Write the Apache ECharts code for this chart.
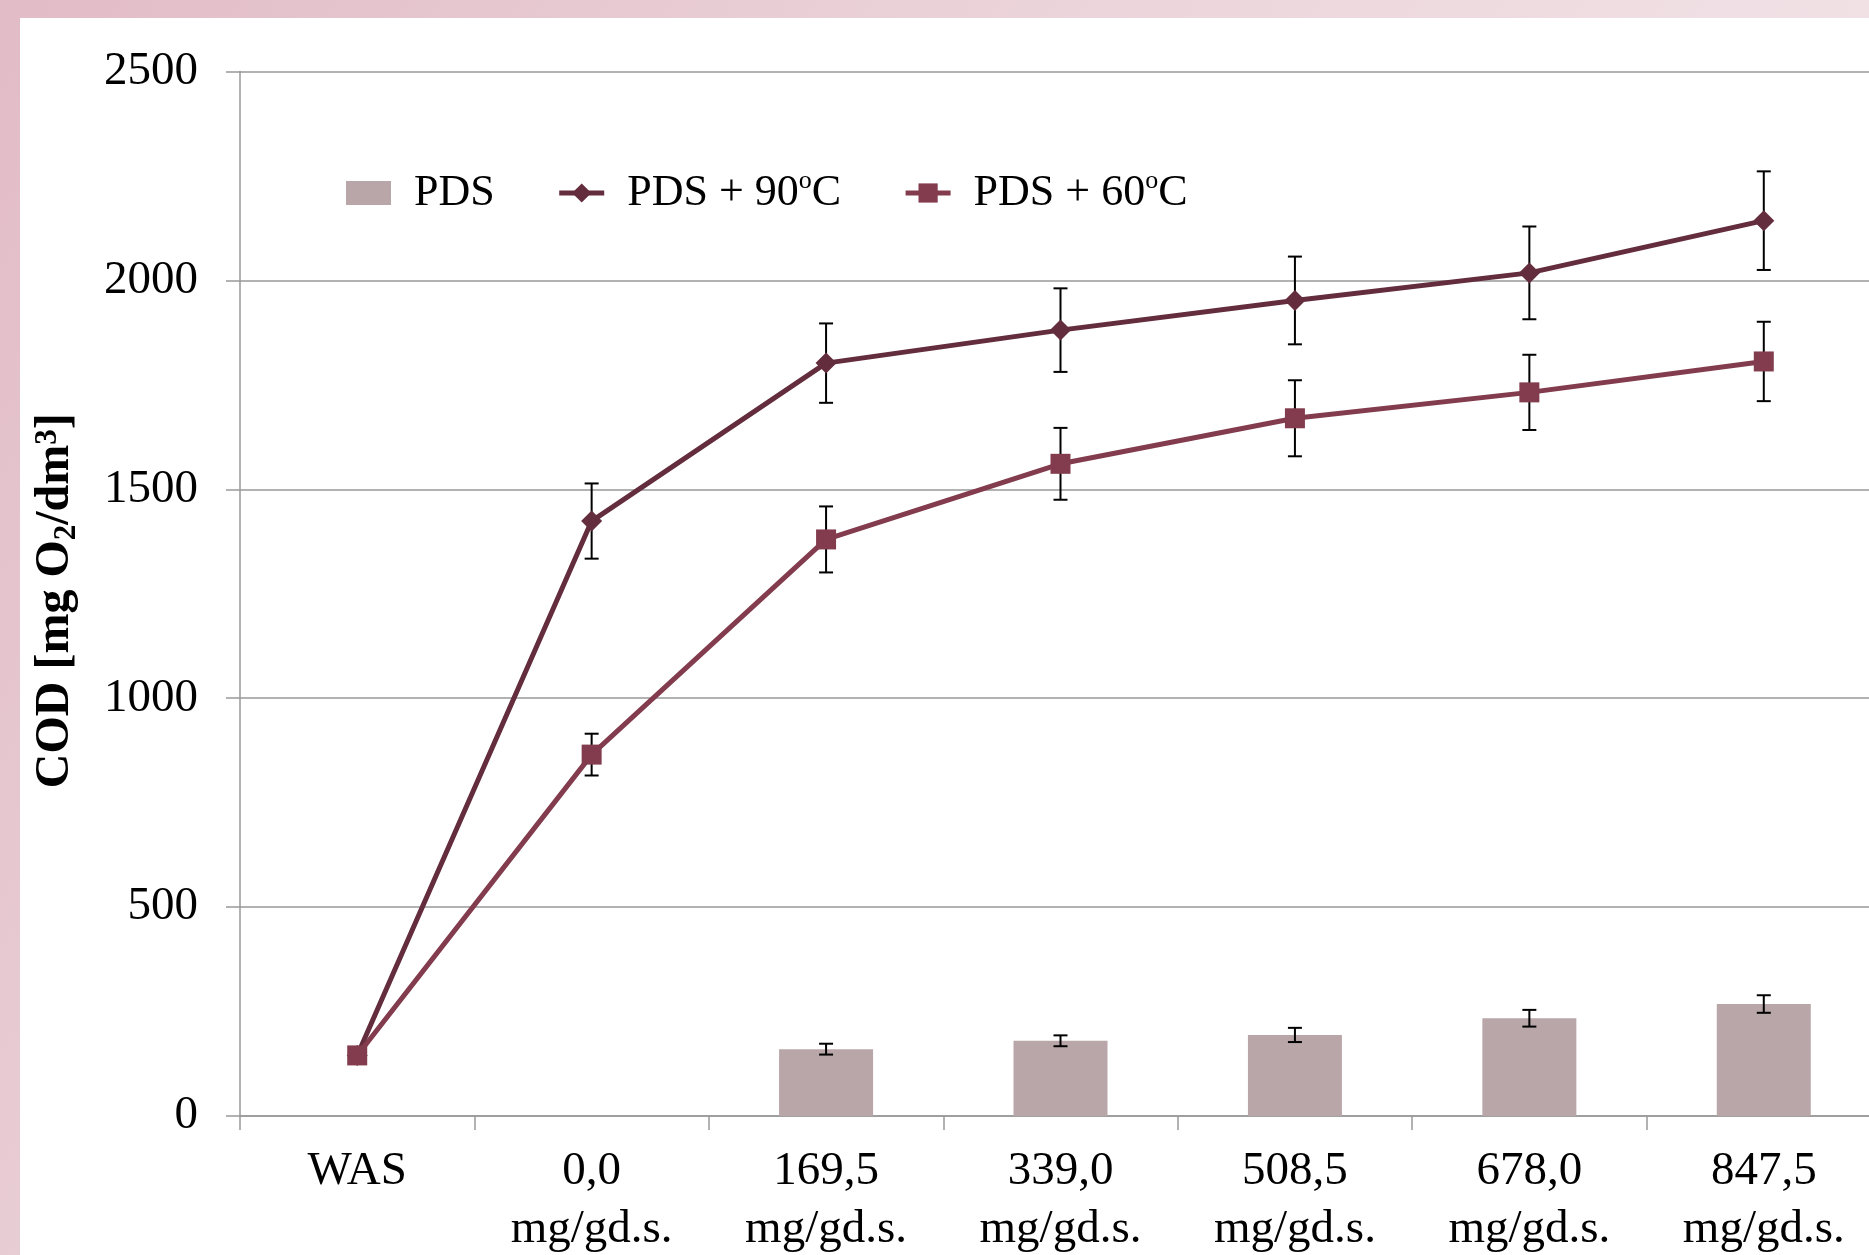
<!DOCTYPE html>
<html>
<head>
<meta charset="utf-8">
<script src="https://cdn.jsdelivr.net/npm/echarts@6.0.0/dist/echarts.min.js"></script>
<style>
  html, body { margin: 0; padding: 0; }
  body {
    width: 1869px; height: 1255px; overflow: hidden; position: relative;
    background: linear-gradient(120deg, #e2bcc6 0%, #ecd6dc 45%, #f5ecef 100%);
  }
  #paper { position: absolute; left: 20px; top: 18px; right: 0; bottom: 0; background: #fff; }
  #chart { position: absolute; left: 0; top: 0; width: 1869px; height: 1255px; }
</style>
</head>
<body>
<div id="paper"></div>
<div id="chart"></div>
<script>
const categories = ['WAS', '0,0\nmg/gd.s.', '169,5\nmg/gd.s.', '339,0\nmg/gd.s.', '508,5\nmg/gd.s.', '678,0\nmg/gd.s.', '847,5\nmg/gd.s.'];
const yTicks = [0, 500, 1000, 1500, 2000, 2500];

const pds = ['-', '-', 160, 180, 194, 234, 268];
const pdsErr = [null, null, 13, 13, 17, 20, 21];
const pds90 = [145, 1424, 1802, 1881, 1952, 2018, 2143];
const pds90Err = [null, 90, 95, 100, 105, 111, 118];
const pds60 = [145, 865, 1380, 1561, 1670, 1732, 1806];
const pds60Err = [null, 50, 79, 86, 91, 90, 95];

const FONT = '"Liberation Serif", "Times New Roman", serif';

// turn value +/- err into [index, low, high] rows
function errRows(vals, errs) {
  const rows = [];
  vals.forEach((v, i) => {
    if (errs[i] != null && typeof v === 'number') rows.push([i, v - errs[i], v + errs[i]]);
  });
  return rows;
}

function errorBars(rows, z) {
  return {
    type: 'custom',
    z: z,
    silent: true,
    renderItem: (params, api) => {
      const i = api.value(0);
      const lo = api.coord([i, api.value(1)]);
      const hi = api.coord([i, api.value(2)]);
      const w = 7;
      const style = { stroke: '#000', lineWidth: 2 };
      return {
        type: 'group',
        children: [
          { type: 'line', shape: { x1: lo[0], y1: lo[1], x2: hi[0], y2: hi[1] }, style: style },
          { type: 'line', shape: { x1: lo[0] - w, y1: lo[1], x2: lo[0] + w, y2: lo[1] }, style: style },
          { type: 'line', shape: { x1: hi[0] - w, y1: hi[1], x2: hi[0] + w, y2: hi[1] }, style: style }
        ]
      };
    },
    encode: { x: 0, y: [1, 2] },
    data: rows
  };
}

const chart = echarts.init(document.getElementById('chart'), null, { renderer: 'canvas' });

const option = {
  animation: false,
  backgroundColor: 'transparent',
  // plot runs past the right edge, like the cropped original
  grid: { left: 240, top: 71.5, width: 1641, height: 1044.5, containLabel: false, outerBoundsMode: 'none' },
  legend: {
    left: 341,
    top: 163,
    itemWidth: 45,
    itemHeight: 24,
    itemGap: 62,
    lineStyle: { width: 5 },
    data: [{ name: 'PDS', icon: 'rect' }, 'PDS + 90°C', 'PDS + 60°C'],
    formatter: name => name.replace('°', '{sup|o}'),
    textStyle: {
      fontFamily: FONT,
      fontSize: 44,
      lineHeight: 50,
      color: '#000',
      padding: [0, 0, 0, 18],
      rich: {
        sup: { fontFamily: FONT, fontSize: 26, lineHeight: 30, verticalAlign: 'top', color: '#000' }
      }
    }
  },
  xAxis: {
    type: 'category',
    data: categories,
    boundaryGap: true,
    axisLine: { lineStyle: { color: '#999', width: 1.5 } },
    axisTick: { show: true, length: 14, lineStyle: { color: '#999', width: 1.5 } },
    axisLabel: {
      interval: 0,
      margin: 27,
      fontFamily: FONT,
      fontSize: 47,
      lineHeight: 58,
      color: '#000'
    }
  },
  yAxis: {
    type: 'value',
    min: yTicks[0],
    max: yTicks[yTicks.length - 1],
    interval: 500,
    name: 'COD [mg O{sub|2}/dm{sup|3}]',
    nameLocation: 'middle',
    nameRotate: 90,
    nameGap: 156,
    nameTextStyle: {
      fontFamily: FONT,
      fontWeight: 'bold',
      fontSize: 48,
      lineHeight: 56,
      color: '#000',
      padding: [0, 14, 0, 0],
      rich: {
        sub: { fontFamily: FONT, fontWeight: 'bold', fontSize: 31, lineHeight: 30, verticalAlign: 'bottom', color: '#000', padding: [0, 0, 2, 0] },
        sup: { fontFamily: FONT, fontWeight: 'bold', fontSize: 31, lineHeight: 30, verticalAlign: 'top', color: '#000', padding: [4, 0, 0, 0] }
      }
    },
    axisLine: { show: true, lineStyle: { color: '#999', width: 1.5 } },
    axisTick: { show: true, length: 14, lineStyle: { color: '#999', width: 1.5 } },
    splitLine: { show: true, lineStyle: { color: '#999', width: 1.5 } },
    axisLabel: {
      margin: 42,
      fontFamily: FONT,
      fontSize: 47,
      color: '#000',
      formatter: v => String(v)
    }
  },
  series: [
    {
      name: 'PDS',
      type: 'bar',
      data: pds,
      barWidth: 94,
      z: 2,
      itemStyle: { color: '#b9a6a8' }
    },
    {
      name: 'PDS + 90°C',
      type: 'line',
      data: pds90,
      z: 5,
      symbol: 'diamond',
      symbolSize: 21,
      lineStyle: { color: '#632d3d', width: 5 },
      itemStyle: { color: '#632d3d' }
    },
    {
      name: 'PDS + 60°C',
      type: 'line',
      data: pds60,
      z: 6,
      symbol: 'rect',
      symbolSize: 20,
      lineStyle: { color: '#823c4d', width: 5 },
      itemStyle: { color: '#823c4d' }
    },
    errorBars(errRows(pds, pdsErr), 3),
    errorBars(errRows(pds90, pds90Err), 3),
    errorBars(errRows(pds60, pds60Err), 3)
  ]
};

chart.setOption(option);
</script>
</body>
</html>
